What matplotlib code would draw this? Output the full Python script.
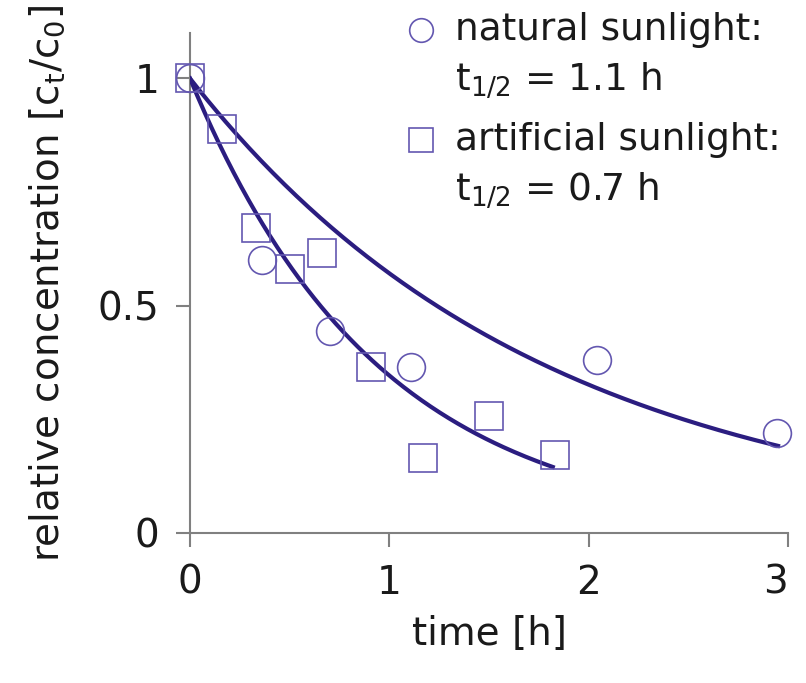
import numpy as np
import matplotlib.pyplot as plt

nat_t = [0.0, 0.36, 0.70, 1.11, 2.04, 2.945]
nat_c = [1.0, 0.60, 0.445, 0.366, 0.381, 0.22]
art_t = [0.0, 0.16, 0.33, 0.50, 0.66, 0.91, 1.17, 1.50, 1.83]
art_c = [1.0, 0.888, 0.67, 0.58, 0.615, 0.366, 0.165, 0.258, 0.172]

# first-order fits (rate constants)
nat_k = 0.56
art_k = 1.06
nat_tend = 2.95
art_tend = 1.82

nat_label = ['natural sunlight:', r'$\mathregular{t_{1/2}}$ = 1.1 h']
art_label = ['artificial sunlight:', r'$\mathregular{t_{1/2}}$ = 0.7 h']

line_col = '#2b1d80'
mark_col = '#6357b0'
axis_col = '#808080'
fs = 28

fig = plt.figure(figsize=(8.06, 6.83), dpi=100)
ax = fig.add_axes([190/806, 1-533/683, (788-190)/806, (533-33)/683])

tn = np.linspace(0, nat_tend, 200)
ta = np.linspace(0, art_tend, 200)
ax.plot(tn, np.exp(-nat_k*tn), color=line_col, lw=3.0, zorder=3)
ax.plot(ta, np.exp(-art_k*ta), color=line_col, lw=3.0, zorder=3)

ax.plot(nat_t, nat_c, 'o', ms=20, mfc='none', mec=mark_col, mew=1.2, zorder=4, clip_on=False)
ax.plot(art_t, art_c, 's', ms=20, mfc='none', mec=mark_col, mew=1.2, zorder=4, clip_on=False)

ax.set_xlim(0, 3)
ax.set_ylim(0, 1.1)
ax.set_xticks([0, 1, 2, 3])
ax.set_xticklabels(['0', '1', '2', '3'])
ax.set_yticks([0, 0.5, 1])
ax.set_yticklabels(['0', '0.5', '1'])
ax.get_xticklabels()[-1].set_ha('right')
for s in ['top', 'right']:
    ax.spines[s].set_visible(False)
for s in ['left', 'bottom']:
    ax.spines[s].set_color(axis_col)
    ax.spines[s].set_linewidth(1.5)
ax.tick_params(direction='out', length=10, width=1.5, color=axis_col,
               labelsize=fs, labelcolor='#1a1a1a', pad=12)

ax.set_xlabel('time [h]', fontsize=fs, color='#1a1a1a', labelpad=10)
ax.set_ylabel(r'relative concentration [c$_\mathregular{t}$/c$_\mathregular{0}$]',
              fontsize=fs, color='#1a1a1a', labelpad=22)

# hand-placed legend
lx = 421/806
tx = 455/806
ys = [1-30/683, 1-80/683, 1-140/683, 1-190/683]
fig.lines.append(plt.Line2D([lx], [ys[0]], marker='o', ms=17, mfc='none', mec=mark_col,
                            mew=1.2, transform=fig.transFigure))
fig.lines.append(plt.Line2D([lx], [ys[2]], marker='s', ms=17, mfc='none', mec=mark_col,
                            mew=1.2, transform=fig.transFigure))
for y, txt in zip(ys, nat_label + art_label):
    fig.text(tx, y, txt, fontsize=27, color='#1a1a1a', va='center', ha='left')

fig.savefig('out.png', dpi=100)
